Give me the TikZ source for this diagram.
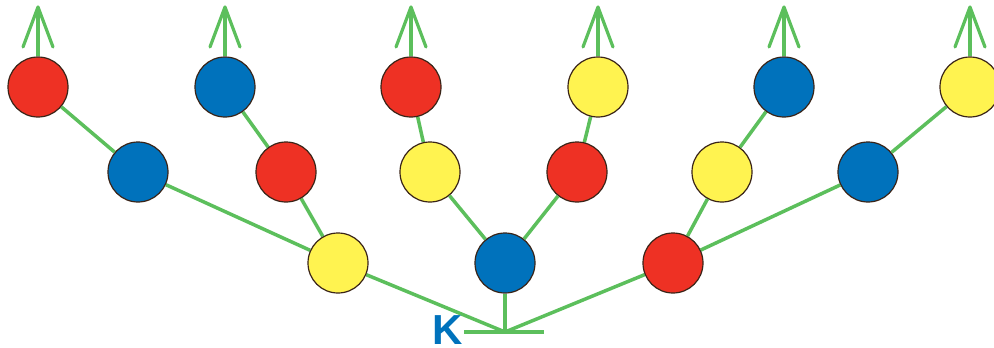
\documentclass[tikz,border=0pt]{standalone}
\usepackage{fontspec}
\setsansfont{Liberation Sans}
\usetikzlibrary{arrows.meta,backgrounds}
\definecolor{cred}{HTML}{EE3124}
\definecolor{cblue}{HTML}{0072BC}
\definecolor{cyel}{HTML}{FFF350}
\definecolor{cgreen}{HTML}{5CBF5C}
\definecolor{cedge}{HTML}{3A2418}
\tikzset{
  ball/.style={circle, minimum size=60pt, inner sep=0pt, draw=cedge, line width=1.2pt},
  rb/.style={ball, fill=cred},
  bb/.style={ball, fill=cblue},
  yb/.style={ball, fill=cyel},
  stem/.style={cgreen, line width=3.5pt},
  shoot/.style={cgreen, line width=3.2pt, -{Straight Barb[length=40pt, width=30pt, line width=3.2pt, round]}}
}
\begin{document}
\begin{tikzpicture}[x=1pt, y=-1pt]
\useasboundingbox (0,0) rectangle (994,348);
% root point and base bar
\coordinate (k) at (505,332);
\coordinate (kl) at (464,332);
\coordinate (kr) at (544,332);
\node[font=\sffamily\bfseries\fontsize{42}{42}\selectfont, text=cblue, inner sep=0pt, anchor=base] (klabel) at (448,344) {K};

% third row
\node[yb] (a1) at (338,263) {};
\node[bb] (a2) at (505,263) {};
\node[rb] (a3) at (673,263) {};
% second row
\node[bb] (b1) at (138,172) {};
\node[rb] (b2) at (286,172) {};
\node[yb] (b3) at (430,172) {};
\node[rb] (b4) at (577,172) {};
\node[yb] (b5) at (722,172) {};
\node[bb] (b6) at (868,172) {};
% top row
\node[rb] (c1) at (38,87) {};
\node[bb] (c2) at (225,87) {};
\node[rb] (c3) at (411,87) {};
\node[yb] (c4) at (598,87) {};
\node[bb] (c5) at (784,87) {};
\node[yb] (c6) at (970,87) {};

% branches
\begin{scope}[on background layer]
\draw[stem] (kl) -- (kr);
\draw[stem] (k) -- (a1);
\draw[stem] (k) -- (a2);
\draw[stem] (k) -- (a3);
\draw[stem] (a1) -- (b1);
\draw[stem] (a1) -- (b2);
\draw[stem] (a2) -- (b3);
\draw[stem] (a2) -- (b4);
\draw[stem] (a3) -- (b5);
\draw[stem] (a3) -- (b6);
\draw[stem] (b1) -- (c1);
\draw[stem] (b2) -- (c2);
\draw[stem] (b3) -- (c3);
\draw[stem] (b4) -- (c4);
\draw[stem] (b5) -- (c5);
\draw[stem] (b6) -- (c6);
\end{scope}

% growth arrows
\foreach \n in {c1,c2,c3,c4,c5,c6}
  \draw[shoot] (\n.north) -- ++(0,-51);
\end{tikzpicture}
\end{document}
